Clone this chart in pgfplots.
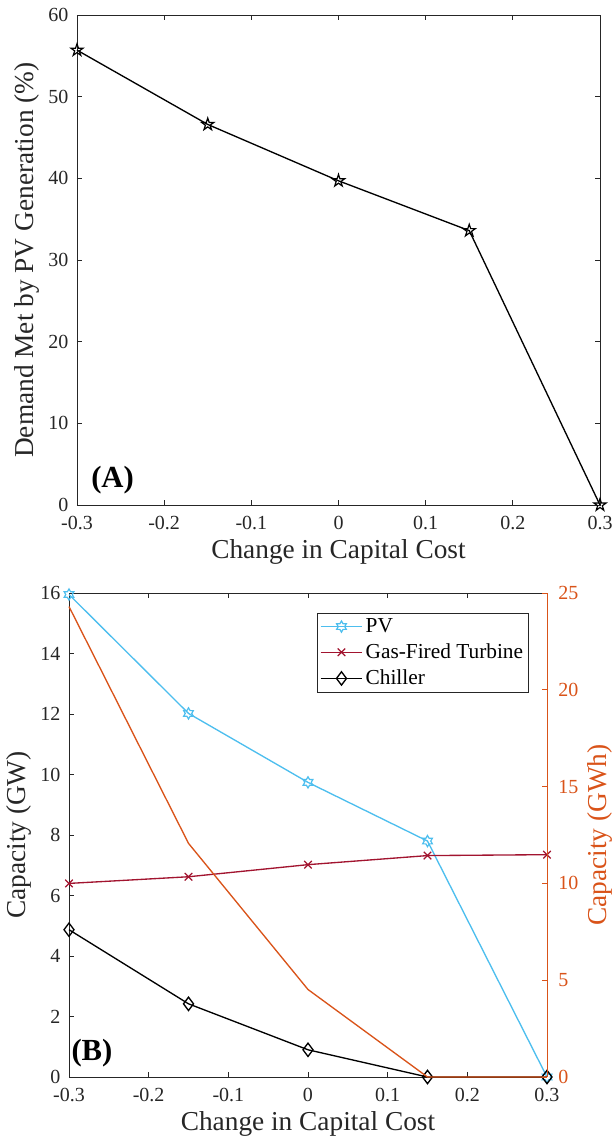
\documentclass[border=0pt]{standalone}
\usepackage{fontspec}
\setmainfont{Liberation Serif}
\usepackage{pgfplots}
\pgfplotsset{compat=1.18}
\usetikzlibrary{plotmarks}
\definecolor{pvblue}{HTML}{4DBEEE}
\definecolor{gasred}{HTML}{A2142F}
\definecolor{storor}{HTML}{D95319}
\definecolor{axgray}{HTML}{262626}

\pgfdeclareplotmark{pentagram}{%
  \pgfpathmoveto{\pgfpointpolar{90}{\pgfplotmarksize}}%
  \pgfpathlineto{\pgfpointpolar{126}{0.382\pgfplotmarksize}}%
  \pgfpathlineto{\pgfpointpolar{162}{\pgfplotmarksize}}%
  \pgfpathlineto{\pgfpointpolar{198}{0.382\pgfplotmarksize}}%
  \pgfpathlineto{\pgfpointpolar{234}{\pgfplotmarksize}}%
  \pgfpathlineto{\pgfpointpolar{270}{0.382\pgfplotmarksize}}%
  \pgfpathlineto{\pgfpointpolar{306}{\pgfplotmarksize}}%
  \pgfpathlineto{\pgfpointpolar{342}{0.382\pgfplotmarksize}}%
  \pgfpathlineto{\pgfpointpolar{18}{\pgfplotmarksize}}%
  \pgfpathlineto{\pgfpointpolar{54}{0.382\pgfplotmarksize}}%
  \pgfpathclose\pgfusepathqstroke}
\pgfdeclareplotmark{hexagram}{%
  \pgfpathmoveto{\pgfpointpolar{90}{\pgfplotmarksize}}%
  \pgfpathlineto{\pgfpointpolar{120}{0.577\pgfplotmarksize}}%
  \pgfpathlineto{\pgfpointpolar{150}{\pgfplotmarksize}}%
  \pgfpathlineto{\pgfpointpolar{180}{0.577\pgfplotmarksize}}%
  \pgfpathlineto{\pgfpointpolar{210}{\pgfplotmarksize}}%
  \pgfpathlineto{\pgfpointpolar{240}{0.577\pgfplotmarksize}}%
  \pgfpathlineto{\pgfpointpolar{270}{\pgfplotmarksize}}%
  \pgfpathlineto{\pgfpointpolar{300}{0.577\pgfplotmarksize}}%
  \pgfpathlineto{\pgfpointpolar{330}{\pgfplotmarksize}}%
  \pgfpathlineto{\pgfpointpolar{0}{0.577\pgfplotmarksize}}%
  \pgfpathlineto{\pgfpointpolar{30}{\pgfplotmarksize}}%
  \pgfpathlineto{\pgfpointpolar{60}{0.577\pgfplotmarksize}}%
  \pgfpathclose\pgfusepathqstroke}

\pgfplotsset{mystyle/.style={
  scale only axis,
  clip=false,
  xmin=-0.3, xmax=0.3,
  xtick={-0.3,-0.2,-0.1,0,0.1,0.2,0.3},
  xticklabels={-0.3,-0.2,-0.1,0,0.1,0.2,0.3},
  axis line style={axgray, line width=0.6pt},
  tick style={axgray, line width=0.6pt},
  major tick length=4pt,
  tick align=inside,
  xticklabel shift=5pt,
  yticklabel shift=3pt,
  ticklabel style={font=\fontsize{15}{17}\selectfont, text=black!85},
  label style={font=\fontsize{20.5}{23}\selectfont, text=black!85},
  /pgf/number format/assume math mode=true,
}}

\begin{document}
\begin{tikzpicture}
\path[use as bounding box] (0pt,0pt) rectangle (462pt,-859.5pt);

% ---------- Panel A ----------
\begin{axis}[mystyle,
  at={(57.75pt,-378.75pt)}, anchor=south west,
  width=392.25pt, height=367.5pt,
  ymin=0, ymax=60, ytick={0,10,20,30,40,50,60},
  xlabel={Change in Capital Cost},
  ylabel={Demand Met by PV Generation (\%)},
]
\addplot[black, line width=1pt, mark=pentagram, mark size=4.8pt,
  mark options={solid, line width=0.9pt}]
  coordinates {(-0.3,55.7) (-0.15,46.6) (0,39.7) (0.15,33.6) (0.3,0)};
\node[font=\bfseries\fontsize{23}{25}\selectfont] at (axis description cs:0.068,0.05) {(A)};
\end{axis}

% ---------- Panel B, left axis ----------
\begin{axis}[mystyle,
  at={(51.75pt,-807.75pt)}, anchor=south west,
  width=358.5pt, height=363pt,
  axis x line*=box, axis y line*=left,
  ymin=0, ymax=16, ytick={0,2,4,6,8,10,12,14,16},
  xlabel={Change in Capital Cost},
  ylabel={Capacity (GW)},
  legend style={at={(axis description cs:0.962,0.959)}, anchor=north east,
    draw=axgray, line width=0.6pt, font=\fontsize{16}{18}\selectfont,
    inner sep=2pt, row sep=3pt},
  legend cell align=left,
  legend image code/.code={%
    \draw[mark repeat=2, mark phase=2] plot coordinates {(0cm,0cm) (0.55cm,0cm) (1.1cm,0cm)};},
]
\addplot[pvblue, line width=1pt, mark=hexagram, mark size=4.2pt,
  mark options={solid, line width=0.9pt}]
  coordinates {(-0.3,15.95) (-0.15,12.02) (0,9.74) (0.15,7.8) (0.3,0)};
\addlegendentry{PV}
\addplot[gasred, line width=1pt, mark=x, mark size=4pt,
  mark options={solid, line width=0.9pt}]
  coordinates {(-0.3,6.4) (-0.15,6.62) (0,7.02) (0.15,7.32) (0.3,7.35)};
\addlegendentry{Gas-Fired Turbine}
\addplot[black, line width=1pt, mark=diamond, mark size=5pt,
  mark options={solid, line width=1pt}]
  coordinates {(-0.3,4.87) (-0.15,2.42) (0,0.9) (0.15,0) (0.3,0)};
\addlegendentry{Chiller}
\node[font=\bfseries\fontsize{23}{25}\selectfont] at (axis description cs:0.048,0.05) {(B)};
\end{axis}

% ---------- Panel B, right axis ----------
\begin{axis}[mystyle,
  at={(51.75pt,-807.75pt)}, anchor=south west,
  width=358.5pt, height=363pt,
  axis x line=none, axis y line*=right,
  ymin=0, ymax=25, ytick={0,5,10,15,20,25},
  axis line style={storor, line width=0.6pt},
  tick style={storor, line width=0.6pt},
  yticklabel shift=5pt,
  yticklabel style={text=storor},
  ylabel={Capacity (GWh)},
  ylabel style={text=storor},
]
\addplot[storor, line width=1pt, no markers]
  coordinates {(-0.3,24.3) (-0.15,12.07) (0,4.52) (0.15,0) (0.3,0)};
\end{axis}
\end{tikzpicture}
\end{document}
